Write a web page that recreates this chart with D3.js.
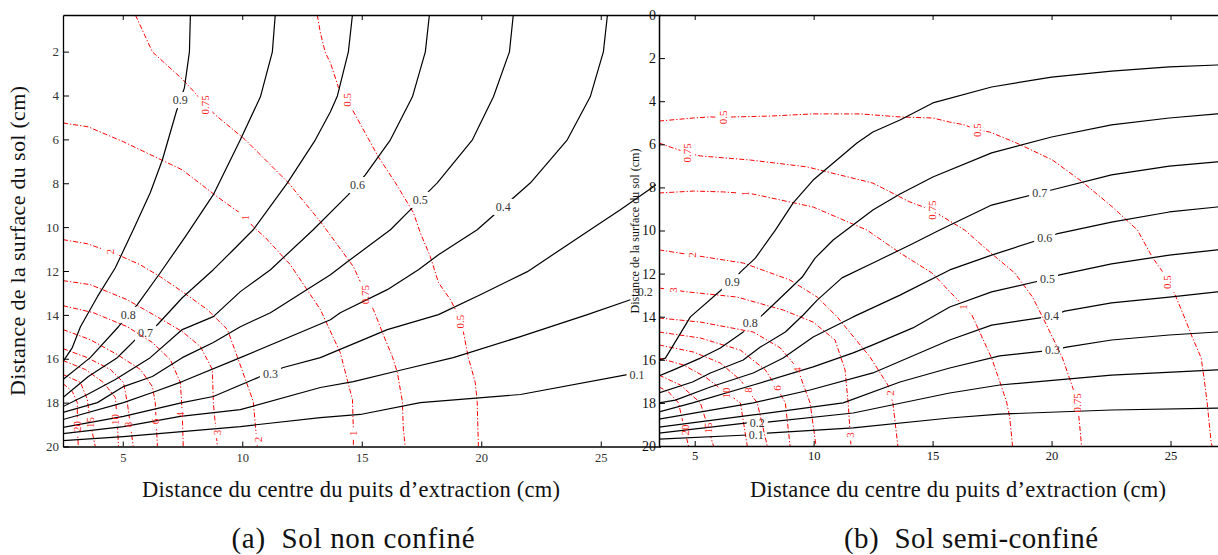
<!DOCTYPE html>
<html><head><meta charset="utf-8">
<script src="https://cdn.jsdelivr.net/npm/d3@7"></script>
<style>
body{margin:0;background:#fff}
svg{display:block}
text{font-family:"Liberation Serif","Times New Roman",serif}
</style></head>
<body><svg id="c" width="1218" height="555"></svg>
<script>
// ---------- ticks ----------
const xTicks = [5, 10, 15, 20, 25];
const yTicksA = [2, 4, 6, 8, 10, 12, 14, 16, 18, 20];
const yTicksB = [0, 2, 4, 6, 8, 10, 12, 14, 16, 18, 20];

// ---------- panel (a) : black contours [x cm, depth cm] ----------
const aK09 = [[7.83,0.33],[7.79,2.01],[7.58,3.65],[7.24,4.74],[6.66,6.93],[6.15,8.43],[5.44,10.12],[4.69,11.85],[3.94,13.17],[3.23,14.54],[2.89,15.49],[2.5,16.13]];
const aK08 = [[11.38,0.33],[11.26,2.01],[10.76,4.06],[9.92,6.02],[8.79,8.52],[7.62,10.43],[6.57,12.08],[5.61,13.53],[4.82,14.54],[3.64,15.95],[2.5,16.95]];
const aK07 = [[14.61,0.33],[14.44,2.01],[13.98,4.02],[13.69,4.74],[13.06,6.02],[11.89,7.98],[10.46,10.12],[9.63,11.03],[8.79,11.94],[7.49,13.22],[6.45,14.45],[5.53,15.13],[5.03,15.67],[4.77,15.95],[3.56,16.81],[2.5,17.77]];
const aK06 = [[17.83,0.33],[17.66,2.01],[17.12,4.06],[16.20,6.02],[15.15,7.62],[14.44,8.52],[12.97,10.12],[11.18,11.94],[9.92,12.94],[8.79,14.08],[7.49,14.67],[6.15,15.95],[4.69,16.95],[3.52,17.63],[2.5,18.18]];
const aK05 = [[21.34,0.33],[21.18,2.01],[20.51,4.06],[19.63,6.02],[18.16,7.98],[17.03,9.21],[16.20,10.12],[14.40,11.58],[13.69,12.17],[11.18,13.90],[9.92,14.54],[8.79,15.26],[7.49,15.95],[6.24,16.81],[5.03,17.27],[3.94,18.00],[2.5,18.45]];
const aK04 = [[25.28,0.33],[25.11,2.01],[24.56,4.06],[23.60,6.02],[22.06,7.98],[19.83,10.12],[18.21,11.26],[17.37,11.94],[16.07,12.85],[14.10,13.90],[13.69,14.22],[9.92,15.95],[7.49,17.04],[6.24,17.54],[5.03,18.00],[2.5,18.77]];
const aK03 = [[27.5,7.9],[27.2,8.16],[25.82,9.21],[24.56,10.12],[21.93,12.03],[19.96,13.08],[18.21,13.99],[16.07,14.67],[13.27,15.95],[11.72,16.40],[10.76,16.81],[8.79,17.72],[7.49,18.00],[5.03,18.63],[2.5,19.13]];
const aK02 = [[2.5,19.41],[5.03,19.09],[7.41,18.63],[9.92,18.32],[13.27,17.31],[14.65,17.04],[16.74,16.49],[18.83,15.95],[21.64,14.99],[24.44,13.99],[26.24,13.31]];
const aK01 = [[2.5,19.73],[5.03,19.55],[9.92,19.09],[13.27,18.68],[14.94,18.54],[17.45,18.00],[21.64,17.63],[26.11,16.72]];
const aKLabels = [["0.9",7.41,4.20],["0.8",5.23,13.99],["0.7",5.95,14.81],["0.6",14.82,8.07],["0.5",17.45,8.75],["0.4",20.92,9.07],["0.3",11.18,16.67],["0.2",26.86,12.94],["0.1",26.52,16.72]];

// ---------- panel (a) : red contours ----------
const aR075 = [[5.53,0.33],[6.24,2.01],[7.53,3.29],[7.95,3.79],[8.46,4.43],[8.87,4.88],[10.13,6.02],[11.93,7.98],[13.27,9.75],[14.65,11.80],[14.94,12.49],[15.15,13.08],[15.49,13.76],[15.90,14.90],[16.28,15.90],[16.49,16.63],[16.70,17.95],[16.74,19.23],[16.82,20]];
const aR05 = [[13.14,0.33],[13.27,1.15],[13.48,2.06],[13.69,2.51],[14.02,3.61],[14.40,4.20],[14.61,4.65],[15.69,6.79],[16.41,7.98],[17.16,9.34],[17.45,10.26],[17.87,11.35],[18.21,12.53],[18.71,13.31],[18.92,13.76],[19.13,14.31],[19.25,14.76],[19.46,15.95],[19.75,17.08],[19.83,17.95],[19.88,20]];
const aR1 = [[2.5,5.25],[3.56,5.43],[5.03,6.11],[7.49,7.39],[8.96,8.62],[10.00,9.43],[10.13,9.57],[10.46,9.98],[10.97,10.48],[12.01,11.71],[13.27,13.76],[14.10,15.72],[14.61,17.86],[14.65,19.23],[14.65,20]];
const aR2 = [[2.5,10.57],[3.52,10.76],[4.61,11.17],[5.74,11.72],[6.57,12.26],[7.49,12.94],[8.54,13.76],[9.38,14.67],[9.79,15.90],[10.46,17.95],[10.63,20]];
const aR3 = [[2.5,12.44],[3.64,12.62],[5.19,13.31],[6.28,13.99],[7.49,14.76],[8.25,15.45],[8.75,16.49],[8.79,18.00],[8.96,20]];
const aR4 = [[2.5,13.58],[3.77,13.90],[5.19,14.54],[6.24,15.26],[6.99,16.04],[7.41,17.08],[7.49,18.45],[7.53,20]];
const aR6 = [[2.5,14.67],[3.64,15.13],[4.77,15.81],[5.74,16.49],[6.24,17.27],[6.36,18.00],[6.45,20]];
const aR8 = [[2.5,15.54],[3.52,15.95],[4.48,16.49],[5.03,17.08],[5.19,18.00],[5.44,20]];
const aR10 = [[2.5,16.08],[3.44,16.49],[4.19,17.08],[4.69,17.77],[4.77,18.77],[4.82,20]];
const aR15 = [[2.5,16.72],[3.23,17.08],[3.52,17.86],[3.64,18.91],[3.85,20]];
const aR20 = [[2.5,17.13],[2.89,17.49],[3.10,18.00],[3.10,19.09],[3.14,20]];
const aRLabels = [["0.75",8.46,4.43],["0.75",15.15,13.08],["0.5",14.40,4.20],["0.5",19.13,14.31],["1",10.13,9.57],["1",14.65,19.40],["2",4.48,11.12],["2",10.67,19.68],["3",8.96,19.36],["4",7.41,18.54],["6",6.36,18.86],["8",5.23,19.00],["10",4.69,18.77],["15",3.64,18.91],["20",3.10,19.09]];

// ---------- panel (b) : black contours ----------
const bK09 = [[3.5,16.01],[3.77,15.92],[4.82,14.01],[6.21,12.67],[6.58,12.39],[6.92,11.93],[7.55,11.28],[8.39,9.98],[9.14,8.72],[9.98,7.66],[11.82,5.94],[12.49,5.43],[13.63,4.87],[15.01,4.08],[17.48,3.34],[20.00,2.88],[22.52,2.60],[24.95,2.41],[26.96,2.32],[28,2.28]];
const bK08 = [[3.5,16.75],[4.11,16.47],[5.24,15.92],[6.08,15.45],[7.04,14.71],[7.34,14.29],[7.76,14.01],[8.60,13.13],[9.52,12.16],[10.06,11.28],[10.82,10.44],[12.49,9.05],[13.63,8.31],[15.01,7.52],[17.48,6.40],[20.00,5.66],[22.52,5.10],[24.95,4.78],[26.96,4.59],[28,4.52]];
const bK07 = [[3.5,17.54],[4.91,17.03],[5.66,16.61],[7.04,16.01],[7.76,15.41],[8.81,14.71],[9.56,13.92],[10.15,13.23],[11.19,12.20],[12.49,11.51],[14.05,10.67],[15.30,9.98],[17.48,8.82],[19.50,8.26],[20.00,8.12],[22.52,7.42],[24.95,7.01],[26.96,6.82],[28,6.75]];
const bK06 = [[3.5,18.00],[4.19,17.87],[5.66,17.26],[7.46,16.61],[8.72,15.92],[9.98,14.94],[11.66,14.01],[13.63,13.00],[15.72,11.83],[17.48,11.14],[19.71,10.35],[20.21,10.16],[22.52,9.61],[24.95,9.14],[26.96,8.91],[28,8.85]];
const bK05 = [[3.5,18.42],[4.91,18.00],[7.46,17.17],[9.98,16.33],[11.66,15.68],[12.49,15.31],[14.17,14.52],[15.72,13.55],[17.48,12.85],[19.83,12.25],[20.34,12.06],[22.52,11.55],[24.95,11.14],[26.96,10.90],[28,10.85]];
const bK04 = [[3.5,18.75],[7.46,18.00],[9.85,17.40],[12.49,16.61],[15.72,15.08],[17.48,14.39],[20.00,13.97],[20.55,13.74],[22.52,13.36],[24.95,13.09],[26.96,12.85],[28,12.8]];
const bK03 = [[3.5,19.12],[7.46,18.56],[11.24,18.00],[13.63,17.03],[15.72,16.38],[17.82,15.82],[20.04,15.55],[20.63,15.41],[22.52,15.08],[24.95,14.85],[26.96,14.71],[28,14.65]];
const bK02 = [[3.5,19.40],[7.21,18.93],[7.63,18.93],[8.05,18.89],[11.66,18.47],[15.72,17.54],[17.82,17.17],[22.52,16.71],[26.96,16.47],[28,16.42]];
const bK01 = [[3.5,19.68],[7.21,19.49],[7.59,19.47],[8.05,19.40],[11.66,19.16],[15.72,18.70],[17.82,18.52],[22.52,18.33],[26.96,18.24],[28,18.2]];
const bKLabels = [["0.9",6.58,12.39],["0.8",7.34,14.29],["0.7",19.50,8.26],["0.6",19.71,10.35],["0.5",19.83,12.25],["0.4",20.00,13.97],["0.3",20.04,15.55],["0.2",7.63,18.93],["0.1",7.59,19.49]];

// ---------- panel (b) : red contours ----------
const bR05 = [[3.5,4.92],[4.95,4.78],[5.66,4.73],[6.21,4.75],[6.63,4.73],[8.18,4.69],[9.98,4.59],[11.95,4.59],[13.63,4.73],[15.01,4.78],[15.72,4.97],[16.35,5.10],[16.86,5.34],[17.40,5.43],[18.53,5.94],[20.04,6.73],[21.30,7.75],[22.56,8.91],[23.61,9.98],[24.23,11.23],[24.82,12.16],[24.86,12.39],[25.16,12.90],[25.58,14.01],[25.91,14.94],[26.29,15.92],[26.42,16.94],[26.54,18.00],[26.71,19.86],[26.75,20]];
const bR075 = [[3.5,5.94],[3.98,6.13],[4.70,6.40],[5.24,6.54],[7.34,6.73],[9.73,7.05],[12.49,7.80],[14.05,8.68],[14.97,9.05],[15.51,9.42],[16.35,9.98],[17.40,11.00],[18.45,11.97],[19.20,13.09],[19.79,14.39],[20.46,15.92],[20.88,17.26],[21.09,18.00],[21.17,18.89],[21.26,20]];
const bR1 = [[3.5,8.26],[4.95,8.17],[6.21,8.21],[7.46,8.31],[9.98,8.91],[12.24,9.98],[13.63,11.04],[14.97,11.97],[16.14,13.32],[16.27,13.55],[16.65,13.92],[17.48,15.92],[17.90,17.26],[18.11,17.96],[18.24,18.65],[18.36,20]];
const bR2 = [[3.5,10.90],[4.91,11.14],[7.04,11.51],[9.01,12.30],[10.15,13.09],[10.99,14.01],[12.37,15.87],[13.12,17.17],[13.33,18.00],[13.54,20]];
const bR3 = [[3.5,12.67],[4.70,12.85],[6.79,13.09],[8.72,13.69],[9.98,14.25],[10.90,15.08],[11.32,16.47],[11.45,18.00],[11.57,20]];
const bR4 = [[3.5,14.06],[5.24,14.25],[7.46,14.71],[8.60,15.45],[9.31,16.38],[9.85,18.00],[10.10,20]];
const bR6 = [[3.5,14.71],[5.24,14.99],[6.92,15.55],[7.97,16.47],[8.51,17.40],[8.81,18.00],[9.01,20]];
const bR8 = [[3.5,15.31],[4.95,15.64],[6.08,16.15],[6.92,16.94],[7.63,18.00],[8.05,20]];
const bR10 = [[3.5,15.92],[4.53,16.24],[5.45,16.80],[6.16,17.40],[6.92,18.00],[7.21,20]];
const bR15 = [[3.5,16.71],[4.40,17.17],[5.24,18.00],[5.53,19.03],[5.79,20]];
const bR20 = [[3.5,17.26],[3.90,17.49],[4.32,18.00],[4.53,19.03],[4.74,20]];
const bRLabels = [["0.5",6.21,4.75],["0.5",16.86,5.34],["0.5",24.86,12.39],["0.75",4.70,6.40],["0.75",14.97,9.05],["0.75",21.09,18.00],["1",7.1,8.28],["1",16.27,13.55],["2",4.91,11.14],["2",13.21,17.54],["3",4.1,12.76],["3",11.54,19.49],["4",9.31,16.47],["6",8.46,17.31],["8",7.23,17.4],["10",6.34,17.54],["15",5.56,19.16],["20",4.58,19.26]];

// ---------- texts ----------
const yTitle = "Distance de la surface du sol (cm)";
const xTitle = "Distance du centre du puits d\u2019extraction (cm)";
const captionA = "(a)  Sol non confin\u00e9";
const captionB = "(b)  Sol semi-confin\u00e9";

// ---------- drawing ----------
const W = 1218, H = 555;
const serif = "'Liberation Serif','Times New Roman',serif";
const svg = d3.select("#c");
const defs = svg.append("defs");

function panel(p) {
  const x = d3.scaleLinear().domain(p.xDomain).range(p.xRange);
  const y = d3.scaleLinear().domain(p.yDomain).range(p.yRange);
  defs.append("clipPath").attr("id", p.id + "clip").append("rect")
    .attr("x", p.xRange[0]).attr("y", p.yRange[0])
    .attr("width", p.clipRight - p.xRange[0]).attr("height", p.yRange[1] - p.yRange[0]);
  const root = svg.append("g");
  const plot = root.append("g").attr("clip-path", `url(#${p.id}clip)`);
  const linesG = plot.append("g");
  const labelsG = plot.append("g");
  const gen = d3.line().x(d => x(d[0])).y(d => y(d[1]));

  const labels = [
    ...p.redLabels.map(l => ({t: l[0], x: l[1], y: l[2], kind: "r"})),
    ...p.blackLabels.map(l => ({t: l[0], x: l[1], y: l[2], kind: "k"}))
  ];
  labels.forEach(l => {
    const rot = l.kind === "r" ? -90 : 0;
    l.tf = `translate(${x(l.x)},${y(l.y)}) rotate(${rot})`;
    const t = labelsG.append("text").attr("transform", l.tf)
      .attr("text-anchor", "middle").attr("dy", "0.35em")
      .attr("font-family", serif)
      .attr("font-size", l.kind === "r" ? 11 : 12)
      .attr("fill", l.kind === "r" ? "#ff1a1a" : "#333")
      .text(l.t);
    l.bb = t.node().getBBox();
  });

  const lines = [
    ...p.red.map(d => ({level: d[0], pts: d[1], kind: "r"})),
    ...p.black.map(d => ({level: d[0], pts: d[1], kind: "k"}))
  ];
  lines.forEach((ln, i) => {
    const mid = p.id + "m" + i;
    const m = defs.append("mask").attr("id", mid).attr("maskUnits", "userSpaceOnUse")
      .attr("x", 0).attr("y", 0).attr("width", W).attr("height", H);
    m.append("rect").attr("width", W).attr("height", H).attr("fill", "#fff");
    labels.filter(l => l.kind === ln.kind && l.t === ln.level).forEach(l => {
      m.append("rect").attr("transform", l.tf)
        .attr("x", l.bb.x - 3).attr("y", l.bb.y - 1)
        .attr("width", l.bb.width + 6).attr("height", l.bb.height + 2).attr("fill", "#000");
    });
    linesG.append("path").attr("d", gen(ln.pts)).attr("mask", `url(#${mid})`)
      .attr("fill", "none")
      .attr("stroke", ln.kind === "r" ? "#ff0000" : "#000")
      .attr("stroke-width", ln.kind === "r" ? 1 : 1.2)
      .attr("stroke-dasharray", ln.kind === "r" ? "5,2,1.3,2" : null)
      .attr("stroke-linejoin", "round");
  });

  // axes
  const styleAxis = (g, fs, col) => {
    g.attr("font-family", null).attr("font-size", null);
    g.select(".domain").attr("stroke", "#000").attr("stroke-width", p.axisW);
    g.selectAll(".tick line").attr("stroke", "#000").attr("stroke-width", 1);
    g.selectAll(".tick text").attr("font-size", fs).attr("fill", col)
      .attr("font-family", serif);
  };
  root.append("g").attr("transform", `translate(0,${p.yRange[1]})`)
    .call(d3.axisBottom(x).tickValues(xTicks).tickSizeInner(-5).tickSizeOuter(0).tickPadding(p.xPad))
    .call(g => styleAxis(g, p.xFs, p.tickCol));
  root.append("g").attr("transform", `translate(0,${p.yRange[0]})`)
    .call(d3.axisTop(x).tickValues(xTicks).tickSizeInner(-5).tickSizeOuter(0).tickFormat(""))
    .call(g => styleAxis(g, p.xFs, p.tickCol));
  root.append("g").attr("transform", `translate(${p.xRange[0]},0)`)
    .call(d3.axisLeft(y).tickValues(p.yTicks).tickSizeInner(-6).tickSizeOuter(0).tickPadding(p.yPad))
    .call(g => styleAxis(g, p.yFs, p.tickCol));
  return {x, y};
}

panel({
  id: "a", xDomain: [2.5, 27.5], xRange: [63, 660.5], clipRight: 656,
  yDomain: [0.33, 20], yRange: [15, 446.5], yTicks: yTicksA,
  axisW: 1.3, xPad: 7, yPad: 4, xFs: 12.5, yFs: 13, tickCol: "#333",
  black: [["0.9",aK09],["0.8",aK08],["0.7",aK07],["0.6",aK06],["0.5",aK05],["0.4",aK04],["0.3",aK03],["0.2",aK02],["0.1",aK01]],
  red: [["0.75",aR075],["0.5",aR05],["1",aR1],["2",aR2],["3",aR3],["4",aR4],["6",aR6],["8",aR8],["10",aR10],["15",aR15],["20",aR20]],
  blackLabels: aKLabels, redLabels: aRLabels
});

panel({
  id: "b", xDomain: [3.5, 27.5], xRange: [659, 1230], clipRight: 1230,
  yDomain: [0, 20], yRange: [15, 446], yTicks: yTicksB,
  axisW: 1.5, xPad: 5, yPad: 3, xFs: 12.5, yFs: 14, tickCol: "#111",
  black: [["0.9",bK09],["0.8",bK08],["0.7",bK07],["0.6",bK06],["0.5",bK05],["0.4",bK04],["0.3",bK03],["0.2",bK02],["0.1",bK01]],
  red: [["0.5",bR05],["0.75",bR075],["1",bR1],["2",bR2],["3",bR3],["4",bR4],["6",bR6],["8",bR8],["10",bR10],["15",bR15],["20",bR20]],
  blackLabels: bKLabels, redLabels: bRLabels
});

// titles
function txt(s, x, y, fs, len, rot, fill) {
  const t = svg.append("text").attr("transform", `translate(${x},${y}) rotate(${rot || 0})`)
    .attr("text-anchor", "middle").attr("font-size", fs).attr("font-family", serif)
    .attr("fill", fill || "#111").style("white-space", "pre").text(s);
  if (len) t.attr("textLength", len).attr("lengthAdjust", "spacing");
  return t;
}
txt(yTitle, 25, 241, 22, 310, -90);
txt(yTitle, 639, 231, 12, 165, -90);
txt(xTitle, 351, 497, 22.5, 418);
txt(xTitle, 958, 497, 22.5, 416);
txt(captionA, 353, 548, 29, 243);
txt(captionB, 971, 548, 29, 254);

// faint cut-off text under panel (b) axis
defs.append("clipPath").attr("id", "faint").append("rect")
  .attr("x", 850).attr("y", 460).attr("width", 190).attr("height", 7);
txt(xTitle, 943, 472, 10, 165, 0, "#c4c4c4").attr("clip-path", "url(#faint)");
</script>
</body></html>
